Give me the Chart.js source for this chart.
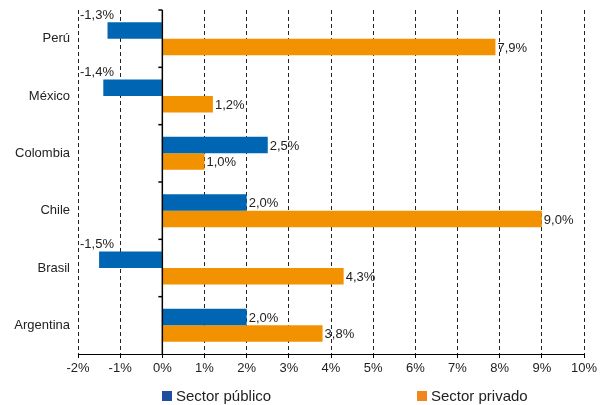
<!DOCTYPE html>
<html>
<head>
<meta charset="utf-8">
<script src="https://cdn.jsdelivr.net/npm/chart.js@4"></script>
<style>
  html, body { margin: 0; padding: 0; background: #fff; }
  #wrap { position: relative; width: 606px; height: 405px; }
  .leg { position: absolute; top: 387px; font: 15px "Liberation Sans", Arial, sans-serif; color: #222; white-space: nowrap; }
  .leg i { display: inline-block; width: 10px; height: 10px; margin-right: 4px; }
</style>
</head>
<body>
<div id="wrap">
  <canvas id="c" width="606" height="405"></canvas>
  <div class="leg" style="left:162px"><i style="background:#1f4f9f"></i>Sector público</div>
  <div class="leg" style="left:417px"><i style="background:#f0871c"></i>Sector privado</div>
</div>
<script>
// categories and series
const countries = ['Perú', 'México', 'Colombia', 'Chile', 'Brasil', 'Argentina'];
const publico = [-1.3, -1.4, 2.5, 2.0, -1.5, 2.0];
const privado = [7.9, 1.2, 1.0, 9.0, 4.3, 3.8];
const xTicks = [-2, -1, 0, 1, 2, 3, 4, 5, 6, 7, 8, 9, 10];

const FONT = '"Liberation Sans", Arial, sans-serif';
const fmt = v => v.toFixed(1).replace('.', ',') + '%';

// zero line, small ticks and value labels
const extras = {
  id: 'extras',
  afterDatasetsDraw(chart) {
    const { ctx, chartArea, scales } = chart;
    const x0 = scales.x.getPixelForValue(0);
    ctx.save();
    ctx.strokeStyle = '#000';
    ctx.lineWidth = 1.5;
    ctx.beginPath();
    ctx.moveTo(x0, chartArea.top);
    ctx.lineTo(x0, chartArea.bottom);
    ctx.stroke();
    const step = (chartArea.bottom - chartArea.top) / countries.length;
    for (let i = 0; i < countries.length; i++) {
      const y = chartArea.top + step * i;
      ctx.beginPath();
      ctx.moveTo(x0 - 4, y);
      ctx.lineTo(x0, y);
      ctx.stroke();
    }
    ctx.font = '13px ' + FONT;
    ctx.fillStyle = '#222';
    ctx.textAlign = 'left';
    ctx.textBaseline = 'middle';
    chart.data.datasets.forEach((ds, di) => {
      chart.getDatasetMeta(di).data.forEach((bar, i) => {
        const v = ds.data[i];
        if (v >= 0) {
          ctx.fillText(fmt(v), bar.x + 2, bar.y + 1);
        } else {
          const top = bar.y - bar.height / 2;
          ctx.fillText(fmt(v), scales.x.getPixelForValue(-2) + 2, top - 7);
        }
      });
    });
    ctx.restore();
  }
};

new Chart(document.getElementById('c'), {
  type: 'bar',
  data: {
    labels: countries,
    datasets: [
      { label: 'Sector público', data: publico, backgroundColor: '#0066b3' },
      { label: 'Sector privado', data: privado, backgroundColor: '#f39200' }
    ]
  },
  options: {
    indexAxis: 'y',
    responsive: false,
    animation: false,
    layout: { padding: { left: 0, right: 22, top: 10, bottom: 29 } },
    datasets: { bar: { barPercentage: 1, categoryPercentage: 0.576 } },
    plugins: { legend: { display: false }, tooltip: { enabled: false } },
    scales: {
      x: {
        min: -2,
        max: 10,
        afterBuildTicks: axis => { axis.ticks = xTicks.map(v => ({ value: v })); },
        afterFit: axis => { axis.height = 22; },
        grid: { color: '#222', lineWidth: 1, tickLength: 4, drawTicks: true, tickColor: '#000', tickWidth: 1, tickBorderDash: [] },
        border: { display: true, color: '#000', width: 1, dash: [4, 3] },
        ticks: { padding: 3, color: '#222', font: { family: FONT, size: 13 }, callback: v => v + '%' }
      },
      y: {
        afterFit: axis => { axis.width = 78; axis.paddingTop = 0; axis.paddingBottom = 0; },
        grid: { display: false, tickLength: 0, drawTicks: false },
        border: { display: false },
        ticks: { padding: 8, color: '#222', font: { family: FONT, size: 13 } }
      }
    }
  },
  plugins: [extras]
});
</script>
</body>
</html>
